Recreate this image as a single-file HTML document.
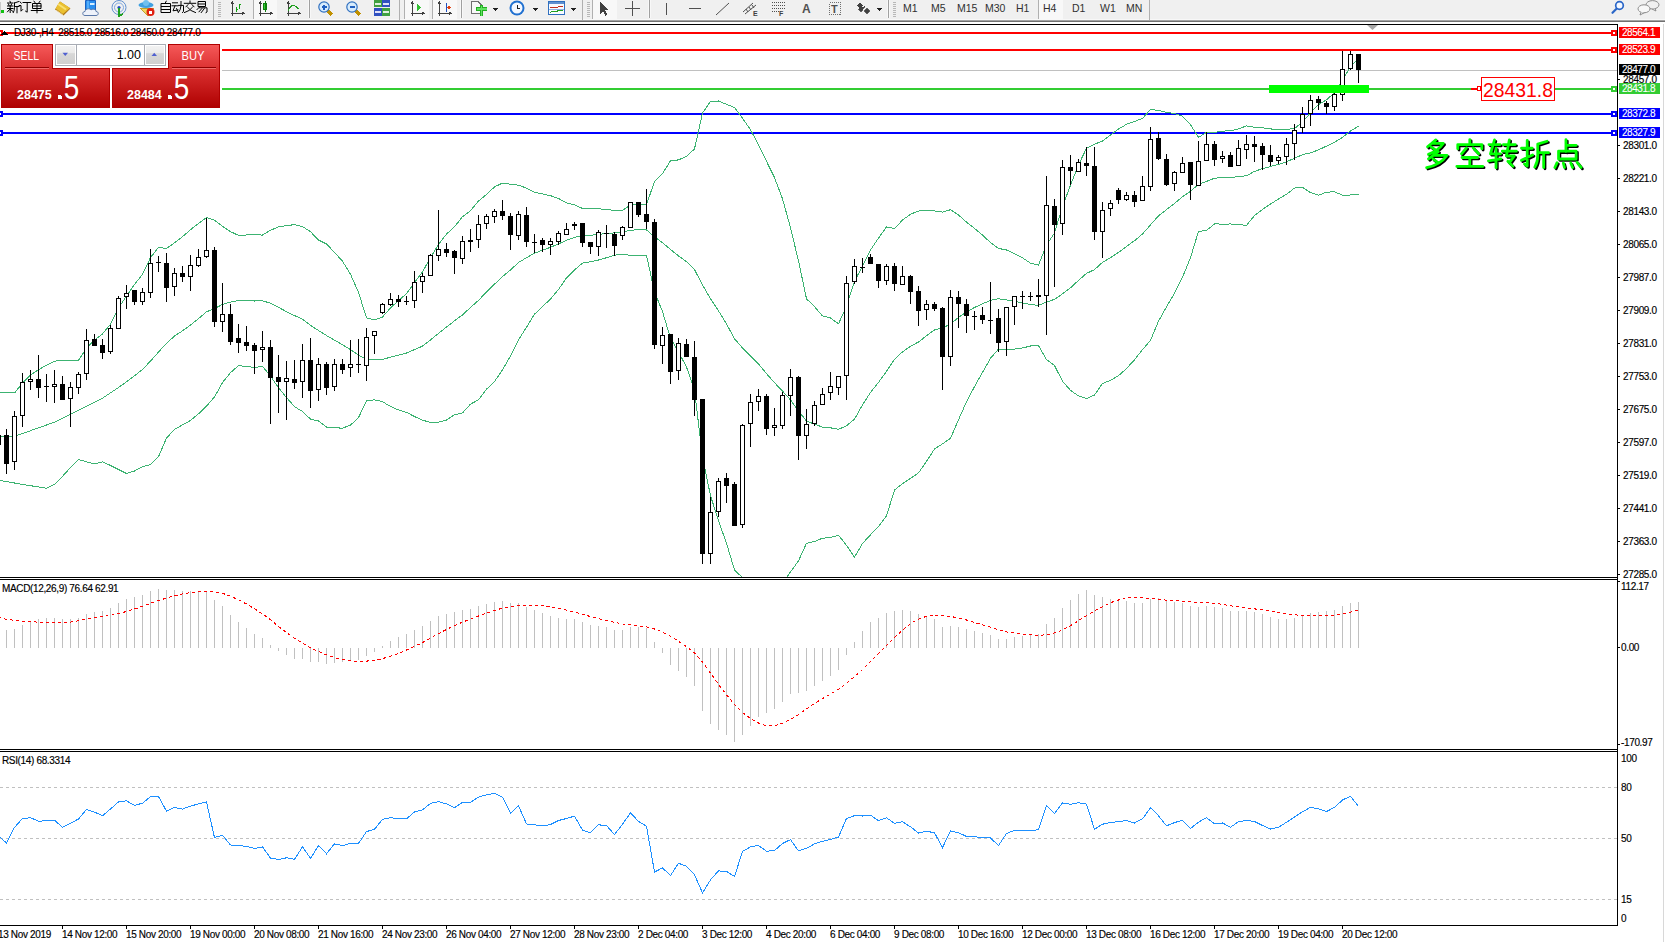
<!DOCTYPE html>
<html><head><meta charset="utf-8"><style>
html,body{margin:0;padding:0;background:#fff;width:1665px;height:942px;overflow:hidden}
svg{display:block}
text{font-family:"Liberation Sans", sans-serif}
.ax{font-size:10px;fill:#000;letter-spacing:-0.35px;stroke:#000;stroke-width:0.15px}
.axw{font-size:10px;fill:#fff;letter-spacing:-0.45px;stroke:#fff;stroke-width:0.1px}
</style></head><body>
<svg width="1665" height="942" viewBox="0 0 1665 942" shape-rendering="crispEdges">
<rect x="0" y="0" width="1665" height="19" fill="#F0F0F0"/><rect x="0" y="19" width="1665" height="1" fill="#F8F8F8"/><rect x="0" y="20" width="1665" height="1" fill="#A4A4A4"/><rect x="0" y="21" width="1665" height="1" fill="#707070"/><rect x="0" y="22" width="1665" height="2" fill="#FFFFFF"/><rect x="0" y="10" width="4" height="3" fill="#10C010"/><rect x="0" y="2" width="1" height="12" fill="#C8C8C8"/><path transform="translate(7,1)" d="M3,0.3 L3.5,1.5 M0.5,2 H6 M1.5,3 L2,4.5 M4.6,3 L4,4.5 M0.5,5 H6 M0.5,7.5 H6 M3.2,5 V11.5 M3,8 L0.5,10.8 M3.5,8.5 L6,10.5 M11.5,0.6 L7.5,2 M7.5,2 V6.5 Q7.5,9.8 6.3,11.6 M7.5,5.5 H12 M10,5.5 V11.8" fill="none" stroke="#000" stroke-width="1.0" stroke-linecap="square" shape-rendering="geometricPrecision"/><path transform="translate(19,1)" d="M1,0.8 L2.2,2.2 M0.2,4.5 H2 V10.2 L3.6,8.6 M4,1.5 H11.8 M8.2,1.5 V11.2 L6.6,10.2" fill="none" stroke="#000" stroke-width="1.0" stroke-linecap="square" shape-rendering="geometricPrecision"/><path transform="translate(31,1)" d="M3,0.2 L4,1.6 M9,0.2 L8,1.6 M2,2.5 H10 V7.5 H2 Z M2,5 H10 M6,2.5 V11.8 M0.3,9.5 H11.7" fill="none" stroke="#000" stroke-width="1.0" stroke-linecap="square" shape-rendering="geometricPrecision"/><g shape-rendering="geometricPrecision"><path d="M60,1.5 L70.5,8.5 L63.5,15.5 L55,9.5 Z" fill="#B07818"/><path d="M60,1.5 L70,8 L63,14 L55.5,8.5 Z" fill="#EAC030"/><path d="M58,4 L66,9.5" stroke="#F8E070" stroke-width="2"/><path d="M56,10 L63,15" stroke="#F4E0A0" stroke-width="0.8"/></g><g shape-rendering="geometricPrecision"><path d="M85.5,0.5 H95.5 V10 H85.5 Z" fill="#2A90F0" stroke="#1A60C0"/><path d="M88,0.5 V10" stroke="#80C8FF"/><rect x="90" y="3" width="4.5" height="2" fill="#D8EEFF"/><path d="M85,15.5 C82,15.5 82,11.5 85,11.5 C85.5,8.5 89.5,8 91,10 C92.5,8.5 96,9 96,11.5 C99,11.5 99,15.5 96,15.5 Z" fill="#EEF2FA" stroke="#5A78A8"/></g><circle shape-rendering="geometricPrecision" cx="119" cy="7.5" r="7" fill="none" stroke="#6090D0" stroke-width="1"/><circle shape-rendering="geometricPrecision" cx="119" cy="7.5" r="4.5" fill="none" stroke="#80A8E0" stroke-width="1"/><circle shape-rendering="geometricPrecision" cx="119" cy="7.5" r="1.6" fill="#2050C0"/><path d="M119,8 V16 L123,14" stroke="#20A020" stroke-width="1.5" fill="none"/><path d="M140,8 L154,8 L148,16 Z" fill="#F0D860" stroke="#C0A030" stroke-width="1"/><ellipse shape-rendering="geometricPrecision" cx="146" cy="5" rx="7.5" ry="3" fill="#40A0E0"/><ellipse shape-rendering="geometricPrecision" cx="146" cy="3" rx="3" ry="3" fill="#70C0F0"/><circle shape-rendering="geometricPrecision" cx="150.5" cy="12" r="4" fill="#E02010"/><rect x="149" y="10.5" width="3" height="3" fill="#fff"/><path transform="translate(160,1)" d="M6.2,0.2 L5.4,1.8 M1.5,2.5 H10.5 V11.5 H1.5 Z M1.5,5.5 H10.5 M1.5,8.5 H10.5" fill="none" stroke="#000" stroke-width="1.0" stroke-linecap="square" shape-rendering="geometricPrecision"/><path transform="translate(172,1)" d="M0.5,1.8 H5.5 M0,4.8 H6 M3,4.8 L1,9.8 L6,9 M4.6,7.6 L6,10.6 M6.6,4.4 H11.5 V10.6 L10.4,11.5 M9,0.5 V4.6 Q8.8,9 6.4,11.6" fill="none" stroke="#000" stroke-width="1.0" stroke-linecap="square" shape-rendering="geometricPrecision"/><path transform="translate(184,1)" d="M6,0 V1.8 M0.3,2.3 H11.7 M4,3.6 L2,5.8 M8,3.6 L10,5.8 M3.5,6.3 Q6,10 11.5,11.6 M8.5,6.3 Q6,10 0.5,11.6" fill="none" stroke="#000" stroke-width="1.0" stroke-linecap="square" shape-rendering="geometricPrecision"/><path transform="translate(196,1)" d="M2.5,0.5 H9.5 V5.5 H2.5 Z M2.5,3 H9.5 M3.5,6 L1,8.6 M3.5,6.8 H11 V11 L10,11.6 M5.8,7.6 L3,10.8 M8.3,7.6 L5.2,11.6" fill="none" stroke="#000" stroke-width="1.0" stroke-linecap="square" shape-rendering="geometricPrecision"/><rect x="213" y="0" width="1" height="20" fill="#B0B0B0"/><rect x="218" y="2" width="3" height="1" fill="#B8B8B8"/><rect x="218" y="4" width="3" height="1" fill="#B8B8B8"/><rect x="218" y="6" width="3" height="1" fill="#B8B8B8"/><rect x="218" y="8" width="3" height="1" fill="#B8B8B8"/><rect x="218" y="10" width="3" height="1" fill="#B8B8B8"/><rect x="218" y="12" width="3" height="1" fill="#B8B8B8"/><rect x="218" y="14" width="3" height="1" fill="#B8B8B8"/><rect x="218" y="16" width="3" height="1" fill="#B8B8B8"/><path d="M232.5,2 V15.5 M230.5,13.5 H244" stroke="#404040" stroke-width="1" fill="none"/><path d="M231,4 L232.5,2 L234,4 M242,12 L244,13.5 L242,15" stroke="#404040" fill="none"/><path d="M236.5,7 V11.5 M236.5,9.5 H238 M239.5,4 V9 M239.5,4 H241" stroke="#10A010" stroke-width="1" fill="none"/><rect x="253" y="0" width="24" height="19" fill="#F8F8F8"/><rect x="253" y="0" width="1" height="19" fill="#B0B0B0"/><path d="M260.5,2 V15.5 M258.5,13.5 H272" stroke="#404040" stroke-width="1" fill="none"/><path d="M259,4 L260.5,2 L262,4 M270,12 L272,13.5 L270,15" stroke="#404040" fill="none"/><rect x="263.5" y="3.5" width="3" height="6" fill="#30D030" stroke="#108010"/><path d="M265,1 V12" stroke="#108010"/><path d="M288.5,2 V15.5 M286.5,13.5 H300" stroke="#404040" stroke-width="1" fill="none"/><path d="M287,4 L288.5,2 L290,4 M298,12 L300,13.5 L298,15" stroke="#404040" fill="none"/><path d="M288,11 Q292,3 295,6 L299,9" stroke="#20A020" stroke-width="1" fill="none"/><rect x="308" y="0" width="1" height="18" fill="#F8F8F8"/><rect x="309" y="0" width="1" height="18" fill="#A0A0A0"/><rect x="310" y="0" width="1" height="18" fill="#F8F8F8"/><path d="M327,10 L332,15" stroke="#C09000" stroke-width="3"/><circle shape-rendering="geometricPrecision" cx="324" cy="7" r="5.2" fill="#D8ECFC" stroke="#3070C0" stroke-width="1.2"/><path d="M321.5,7 H326.5" stroke="#2060C0" stroke-width="1.6"/><path d="M324,4.5 V9.5" stroke="#2060C0" stroke-width="1.6"/><path d="M355,10 L360,15" stroke="#C09000" stroke-width="3"/><circle shape-rendering="geometricPrecision" cx="352" cy="7" r="5.2" fill="#D8ECFC" stroke="#3070C0" stroke-width="1.2"/><path d="M349.5,7 H354.5" stroke="#2060C0" stroke-width="1.6"/><rect x="374" y="0" width="8" height="7" fill="#40A040"/><rect x="382" y="0" width="8" height="7" fill="#3050C0"/><rect x="374" y="8" width="8" height="8" fill="#3050C0"/><rect x="382" y="8" width="8" height="8" fill="#40A040"/><rect x="375" y="3" width="6" height="2" fill="#E0F0E0"/><rect x="383" y="3" width="6" height="2" fill="#E0E0F8"/><rect x="375" y="11" width="6" height="2" fill="#E0E0F8"/><rect x="383" y="11" width="6" height="2" fill="#E0F0E0"/><rect x="399" y="0" width="1" height="20" fill="#B0B0B0"/><rect x="404" y="0" width="25" height="19" fill="#F8F8F8"/><rect x="404" y="0" width="1" height="19" fill="#B0B0B0"/><path d="M412.5,2 V15.5 M410.5,13.5 H424" stroke="#404040" stroke-width="1" fill="none"/><path d="M411,4 L412.5,2 L414,4 M422,12 L424,13.5 L422,15" stroke="#404040" fill="none"/><path d="M417,4 L421,7.5 L417,11 Z" fill="#30C030"/><rect x="432" y="0" width="25" height="19" fill="#F8F8F8"/><rect x="432" y="0" width="1" height="19" fill="#B0B0B0"/><path d="M439.5,2 V15.5 M437.5,13.5 H451" stroke="#404040" stroke-width="1" fill="none"/><path d="M438,4 L439.5,2 L441,4 M449,12 L451,13.5 L449,15" stroke="#404040" fill="none"/><path d="M446.5,3 V12" stroke="#2050C0"/><path d="M451,7.5 H448 M449.5,6 L448,7.5 L449.5,9" stroke="#E04010" fill="none"/><rect x="460" y="0" width="1" height="18" fill="#F8F8F8"/><rect x="461" y="0" width="1" height="18" fill="#A0A0A0"/><rect x="462" y="0" width="1" height="18" fill="#F8F8F8"/><path d="M471.5,1.5 H478 L481,4.5 V13 H471.5 Z" fill="#F8F8F8" stroke="#707070"/><path d="M476,9 H487 M481.5,5 V16" stroke="#20B020" stroke-width="3.5"/><path d="M476.5,9 H486.5 M481.5,5.5 V15.5" stroke="#60E060" stroke-width="1.5"/><path d="M493,8 h5 l-2.5,3 z" fill="#202020"/><circle shape-rendering="geometricPrecision" cx="517" cy="8" r="7.5" fill="#2070D0"/><circle shape-rendering="geometricPrecision" cx="517" cy="8" r="5.5" fill="#F4F8FF"/><path d="M517,4.5 V8 H520" stroke="#202020" fill="none"/><path d="M533,8 h5 l-2.5,3 z" fill="#202020"/><rect x="548.5" y="1.5" width="16" height="13" fill="#F8FBFF" stroke="#3070C0"/><rect x="549" y="2" width="15" height="2" fill="#6090D0"/><path d="M550,8 L553,7 L556,8 L559,6.5 L563,6" stroke="#C03020" fill="none"/><path d="M550,12.5 L553,11 L556,12 L559,10 L563,11" stroke="#20A020" fill="none"/><rect x="549" y="9" width="15" height="1" fill="#90B0E0"/><path d="M571,8 h5 l-2.5,3 z" fill="#202020"/><rect x="582" y="0" width="1" height="20" fill="#B0B0B0"/><rect x="587" y="2" width="3" height="1" fill="#B8B8B8"/><rect x="587" y="4" width="3" height="1" fill="#B8B8B8"/><rect x="587" y="6" width="3" height="1" fill="#B8B8B8"/><rect x="587" y="8" width="3" height="1" fill="#B8B8B8"/><rect x="587" y="10" width="3" height="1" fill="#B8B8B8"/><rect x="587" y="12" width="3" height="1" fill="#B8B8B8"/><rect x="587" y="14" width="3" height="1" fill="#B8B8B8"/><rect x="587" y="16" width="3" height="1" fill="#B8B8B8"/><rect x="592" y="0" width="25" height="19" fill="#F8F8F8"/><rect x="592" y="0" width="1" height="19" fill="#B0B0B0"/><path d="M600,2 L600,14 L603,11 L605.5,15.5 L607.5,14.5 L605,10 L609,10 Z" fill="#404040"/><path d="M632.5,1 V16 M625,8.5 H640" stroke="#505050" fill="none"/><rect x="648" y="0" width="1" height="18" fill="#F8F8F8"/><rect x="649" y="0" width="1" height="18" fill="#A0A0A0"/><rect x="650" y="0" width="1" height="18" fill="#F8F8F8"/><rect x="666" y="3" width="1" height="12" fill="#505050"/><rect x="689" y="8" width="12" height="1" fill="#505050"/><path d="M716,15 L729,3" stroke="#505050" fill="none" shape-rendering="geometricPrecision"/><path d="M743,12 L753,3 M745,14 L756,5 M746,9 L748,12 M749,7 L751,10 M752,5 L754,8" stroke="#505050" fill="none" shape-rendering="geometricPrecision"/><text x="753" y="16" style="font-size:7px;font-weight:bold" fill="#404040">E</text><path d="M771.5,2.5 H785 M771.5,5.5 H785 M771.5,8.5 H785 M771.5,11.5 H780" stroke="#505050" stroke-dasharray="1,1" fill="none"/><text x="779" y="16" style="font-size:7px;font-weight:bold" fill="#404040">F</text><text x="802" y="13" style="font-size:12px;font-weight:bold" fill="#505050">A</text><rect x="829.5" y="2.5" width="11" height="12" fill="none" stroke="#707070" stroke-dasharray="1,1"/><text x="831" y="13" style="font-size:11px;font-weight:bold" fill="#505050">T</text><path d="M857,5.5 L860,3 L863,5.5 L860,8 Z M864,11 L867,8.5 L870,11 L867,13.5 Z M858,9 L861,12 L865,6" fill="#404040" stroke="#404040" stroke-width="0.8"/><path d="M877,8 h5 l-2.5,3 z" fill="#202020"/><rect x="887" y="0" width="1" height="18" fill="#F8F8F8"/><rect x="888" y="0" width="1" height="18" fill="#A0A0A0"/><rect x="889" y="0" width="1" height="18" fill="#F8F8F8"/><rect x="893" y="2" width="3" height="1" fill="#B8B8B8"/><rect x="893" y="4" width="3" height="1" fill="#B8B8B8"/><rect x="893" y="6" width="3" height="1" fill="#B8B8B8"/><rect x="893" y="8" width="3" height="1" fill="#B8B8B8"/><rect x="893" y="10" width="3" height="1" fill="#B8B8B8"/><rect x="893" y="12" width="3" height="1" fill="#B8B8B8"/><rect x="893" y="14" width="3" height="1" fill="#B8B8B8"/><rect x="893" y="16" width="3" height="1" fill="#B8B8B8"/><rect x="1038" y="0" width="25" height="19" fill="#F8F8F8"/><rect x="1038" y="0" width="1" height="19" fill="#B0B0B0"/><text x="903" y="12" style="font-size:10.5px" fill="#303030">M1</text><text x="931" y="12" style="font-size:10.5px" fill="#303030">M5</text><text x="957" y="12" style="font-size:10.5px" fill="#303030">M15</text><text x="985" y="12" style="font-size:10.5px" fill="#303030">M30</text><text x="1016" y="12" style="font-size:10.5px" fill="#303030">H1</text><text x="1043" y="12" style="font-size:10.5px" fill="#303030">H4</text><text x="1072" y="12" style="font-size:10.5px" fill="#303030">D1</text><text x="1100" y="12" style="font-size:10.5px" fill="#303030">W1</text><text x="1126" y="12" style="font-size:10.5px" fill="#303030">MN</text><rect x="1149" y="0" width="1" height="20" fill="#B0B0B0"/><circle shape-rendering="geometricPrecision" cx="1619.5" cy="5.5" r="3.8" fill="#F4F8FF" stroke="#2A66C8" stroke-width="1.7"/><path d="M1616.5,8.8 L1612.5,12.8" stroke="#2A66C8" stroke-width="2.2" stroke-linecap="round" shape-rendering="geometricPrecision"/><ellipse shape-rendering="geometricPrecision" cx="1652.5" cy="4.8" rx="6.5" ry="4.2" fill="#F0F0F0" stroke="#8C8C8C"/><path d="M1655,8.5 L1656,11 L1652,9" fill="#F0F0F0" stroke="#8C8C8C" shape-rendering="geometricPrecision"/><ellipse shape-rendering="geometricPrecision" cx="1644" cy="8.8" rx="6" ry="4" fill="#F8F8F8" stroke="#8C8C8C"/><path d="M1641,12.3 L1640,15 L1644.5,12.6" fill="#F8F8F8" stroke="#8C8C8C" shape-rendering="geometricPrecision"/>
<rect x="0" y="24" width="1618" height="1" fill="#000"/>
<rect x="1617" y="24" width="1" height="902" fill="#000"/>
<rect x="0" y="577" width="1618" height="1" fill="#000"/>
<rect x="0" y="579" width="1618" height="1" fill="#000"/>
<rect x="0" y="749" width="1618" height="1" fill="#000"/>
<rect x="0" y="751" width="1618" height="1" fill="#000"/>
<rect x="0" y="925" width="1618" height="1" fill="#000"/>
<rect x="1663" y="24" width="1" height="918" fill="#D8D8D8"/>
<defs><clipPath id="cm"><rect x="0" y="25" width="1617" height="552"/></clipPath><clipPath id="cmacd"><rect x="0" y="580" width="1617" height="169"/></clipPath><clipPath id="crsi"><rect x="0" y="752" width="1617" height="173"/></clipPath></defs>
<rect x="3" y="32" width="1608" height="2" fill="#FF0000"/>
<rect x="0" y="49" width="1611" height="2" fill="#FF0000"/>
<rect x="0" y="70" width="1617" height="1" fill="#C0C0C0"/>
<rect x="0" y="88" width="1611" height="2" fill="#32CD32"/>
<rect x="3" y="113" width="1608" height="2" fill="#0000FF"/>
<rect x="3" y="132" width="1608" height="2" fill="#0000FF"/>
<g clip-path="url(#cm)">
<polyline points="-1.5,392.2 6.5,392.5 14.5,393.0 22.5,383.0 30.5,374.9 38.5,369.7 46.5,365.2 54.5,361.2 62.5,360.3 70.5,360.3 78.5,360.3 86.5,348.4 94.5,339.9 102.5,333.9 110.5,324.2 118.5,308.1 126.5,296.1 134.5,284.5 142.5,274.4 150.5,257.6 158.5,247.4 166.5,248.4 174.5,242.9 182.5,236.7 190.5,229.7 198.5,223.4 206.5,217.5 214.5,220.3 222.5,226.3 230.5,231.6 238.5,235.4 246.5,235.0 254.5,234.6 262.5,235.1 270.5,230.3 278.5,226.9 286.5,225.7 294.5,224.6 302.5,226.6 310.5,231.7 318.5,240.0 326.5,244.0 334.5,252.4 342.5,261.2 350.5,274.2 358.5,292.4 366.5,317.8 374.5,319.9 382.5,317.0 390.5,308.0 398.5,300.5 406.5,293.6 414.5,282.7 422.5,271.9 430.5,257.6 438.5,244.5 446.5,234.1 454.5,226.8 462.5,216.7 470.5,210.7 478.5,201.0 486.5,194.5 494.5,186.9 502.5,183.1 510.5,184.2 518.5,185.2 526.5,188.1 534.5,192.3 542.5,193.9 550.5,195.7 558.5,198.4 566.5,202.9 574.5,204.9 582.5,208.4 590.5,208.9 598.5,208.9 606.5,209.3 614.5,210.6 622.5,210.2 630.5,205.2 638.5,203.8 646.5,204.5 654.5,181.6 662.5,173.7 670.5,160.8 678.5,159.9 686.5,156.5 694.5,148.9 702.5,113.0 710.5,101.5 718.5,101.0 726.5,104.3 734.5,107.6 742.5,118.3 750.5,129.8 758.5,144.7 766.5,161.3 774.5,177.6 782.5,198.8 790.5,227.8 798.5,260.9 806.5,298.8 814.5,306.7 822.5,315.9 830.5,318.0 838.5,323.8 846.5,306.2 854.5,281.1 862.5,266.2 870.5,250.0 878.5,238.1 886.5,226.9 894.5,228.6 902.5,220.1 910.5,214.2 918.5,211.1 926.5,210.3 934.5,210.9 942.5,212.1 950.5,209.7 958.5,215.0 966.5,222.1 974.5,228.4 982.5,235.1 990.5,242.6 998.5,248.4 1006.5,250.0 1014.5,253.8 1022.5,257.8 1030.5,263.1 1038.5,265.0 1046.5,245.0 1054.5,233.1 1062.5,206.5 1070.5,185.2 1078.5,164.9 1086.5,148.3 1094.5,144.2 1102.5,141.1 1110.5,134.9 1118.5,129.1 1126.5,124.3 1134.5,121.5 1142.5,118.4 1150.5,109.5 1158.5,110.4 1166.5,112.3 1174.5,113.5 1182.5,116.2 1190.5,124.8 1198.5,137.4 1206.5,132.3 1214.5,132.4 1222.5,131.1 1230.5,130.8 1238.5,128.8 1246.5,125.9 1254.5,127.3 1262.5,127.8 1270.5,128.9 1278.5,129.8 1286.5,129.4 1294.5,128.5 1302.5,122.1 1310.5,112.9 1318.5,104.6 1326.5,99.9 1334.5,92.5 1342.5,79.7 1350.5,66.9 1358.5,58.6" fill="none" stroke="#3CB371" stroke-width="1"/>
<polyline points="-1.5,436.0 6.5,436.0 14.5,436.0 22.5,433.6 30.5,430.7 38.5,427.8 46.5,425.0 54.5,422.2 62.5,418.4 70.5,414.4 78.5,410.4 86.5,406.4 94.5,402.4 102.5,398.2 110.5,392.8 118.5,387.5 126.5,381.8 134.5,375.8 142.5,369.5 150.5,361.1 158.5,352.1 166.5,343.2 174.5,336.1 182.5,330.8 190.5,325.1 198.5,318.6 206.5,311.8 214.5,308.6 222.5,304.4 230.5,302.1 238.5,300.5 246.5,300.8 254.5,301.0 262.5,300.8 270.5,303.2 278.5,307.4 286.5,311.6 294.5,315.6 302.5,319.1 310.5,325.4 318.5,330.5 326.5,335.5 334.5,340.1 342.5,344.7 350.5,349.6 358.5,355.0 366.5,359.4 374.5,359.9 382.5,359.4 390.5,357.2 398.5,355.2 406.5,353.0 414.5,349.6 422.5,346.1 430.5,339.9 438.5,333.4 446.5,327.1 454.5,320.8 462.5,314.9 470.5,307.4 478.5,300.4 486.5,291.9 494.5,284.2 502.5,276.5 510.5,270.0 518.5,262.5 526.5,257.7 534.5,253.2 542.5,250.2 550.5,247.3 558.5,243.9 566.5,240.3 574.5,237.4 582.5,235.8 590.5,235.3 598.5,234.4 606.5,233.5 614.5,232.9 622.5,232.2 630.5,230.2 638.5,229.8 646.5,230.0 654.5,236.7 662.5,242.7 670.5,249.5 678.5,255.9 686.5,261.7 694.5,269.6 702.5,285.0 710.5,298.6 718.5,310.9 726.5,323.8 734.5,338.8 742.5,347.9 750.5,355.8 758.5,363.9 766.5,373.7 774.5,382.7 782.5,391.1 790.5,399.9 798.5,410.9 806.5,421.1 814.5,424.1 822.5,427.1 830.5,427.8 838.5,429.4 846.5,425.8 854.5,419.1 862.5,404.9 870.5,392.4 878.5,382.4 886.5,371.4 894.5,359.3 902.5,351.9 910.5,346.3 918.5,342.0 926.5,335.8 934.5,329.9 942.5,328.0 950.5,324.0 958.5,317.4 966.5,311.9 974.5,307.5 982.5,303.8 990.5,300.4 998.5,298.8 1006.5,299.9 1014.5,301.4 1022.5,302.9 1030.5,304.6 1038.5,305.3 1046.5,302.2 1054.5,299.3 1062.5,293.9 1070.5,287.8 1078.5,280.4 1086.5,273.4 1094.5,269.6 1102.5,262.3 1110.5,257.6 1118.5,252.4 1126.5,246.4 1134.5,240.7 1142.5,234.0 1150.5,224.9 1158.5,215.8 1166.5,209.6 1174.5,203.4 1182.5,196.8 1190.5,191.2 1198.5,184.4 1206.5,181.4 1214.5,178.2 1222.5,177.6 1230.5,177.4 1238.5,176.7 1246.5,175.7 1254.5,171.4 1262.5,168.6 1270.5,166.5 1278.5,164.4 1286.5,161.8 1294.5,158.3 1302.5,154.7 1310.5,152.8 1318.5,149.9 1326.5,146.1 1334.5,142.2 1342.5,137.4 1350.5,130.9 1358.5,126.3" fill="none" stroke="#3CB371" stroke-width="1"/>
<polyline points="-1.5,480.3 6.5,481.5 14.5,483.0 22.5,484.4 30.5,485.7 38.5,486.9 46.5,488.2 54.5,484.3 62.5,476.3 70.5,467.6 78.5,459.5 86.5,461.8 94.5,463.8 102.5,461.8 110.5,465.5 118.5,469.5 126.5,473.5 134.5,471.0 142.5,466.7 150.5,464.7 158.5,456.7 166.5,438.1 174.5,429.3 182.5,424.9 190.5,420.5 198.5,413.8 206.5,406.1 214.5,397.0 222.5,382.5 230.5,372.6 238.5,365.6 246.5,366.5 254.5,367.4 262.5,366.4 270.5,376.1 278.5,387.8 286.5,397.5 294.5,406.7 302.5,411.5 310.5,419.1 318.5,421.0 326.5,427.0 334.5,427.7 342.5,428.2 350.5,425.1 358.5,417.6 366.5,400.9 374.5,399.8 382.5,401.7 390.5,406.5 398.5,409.9 406.5,412.4 414.5,416.5 422.5,420.2 430.5,422.3 438.5,422.2 446.5,420.0 454.5,414.8 462.5,413.0 470.5,404.1 478.5,399.8 486.5,389.2 494.5,381.5 502.5,369.9 510.5,355.8 518.5,339.8 526.5,327.3 534.5,314.2 542.5,306.6 550.5,299.0 558.5,289.5 566.5,277.8 574.5,270.0 582.5,263.1 590.5,261.7 598.5,260.0 606.5,257.7 614.5,255.2 622.5,254.2 630.5,255.3 638.5,255.7 646.5,255.5 654.5,291.7 662.5,311.6 670.5,338.2 678.5,352.0 686.5,366.9 694.5,390.2 702.5,457.0 710.5,495.6 718.5,520.9 726.5,543.2 734.5,570.0 742.5,577.6 750.5,581.7 758.5,583.2 766.5,586.1 774.5,587.8 782.5,583.4 790.5,571.9 798.5,560.9 806.5,543.3 814.5,541.5 822.5,538.2 830.5,537.6 838.5,535.1 846.5,545.4 854.5,557.2 862.5,543.5 870.5,534.8 878.5,526.6 886.5,515.9 894.5,490.0 902.5,483.6 910.5,478.4 918.5,472.9 926.5,461.3 934.5,449.0 942.5,443.9 950.5,438.3 958.5,419.8 966.5,401.8 974.5,386.6 982.5,372.4 990.5,358.3 998.5,349.1 1006.5,349.9 1014.5,349.1 1022.5,348.0 1030.5,346.0 1038.5,345.6 1046.5,359.5 1054.5,365.5 1062.5,381.2 1070.5,390.4 1078.5,395.9 1086.5,398.6 1094.5,395.0 1102.5,383.5 1110.5,380.3 1118.5,375.7 1126.5,368.5 1134.5,359.8 1142.5,349.6 1150.5,340.4 1158.5,321.1 1166.5,306.9 1174.5,293.3 1182.5,277.3 1190.5,257.5 1198.5,231.5 1206.5,230.5 1214.5,223.9 1222.5,224.1 1230.5,224.0 1238.5,224.6 1246.5,225.4 1254.5,215.5 1262.5,209.4 1270.5,204.1 1278.5,199.0 1286.5,194.3 1294.5,188.1 1302.5,187.3 1310.5,192.6 1318.5,195.3 1326.5,192.2 1334.5,191.8 1342.5,195.2 1350.5,195.0 1358.5,194.1" fill="none" stroke="#3CB371" stroke-width="1"/>
<g fill="#000"><rect x="-2" y="433" width="1" height="14"/><rect x="-4" y="435" width="5" height="10"/><rect x="6" y="429" width="1" height="45"/><rect x="4" y="435" width="5" height="29"/><rect x="14" y="411" width="1" height="59"/><rect x="12" y="416" width="5" height="46"/><rect x="13" y="417" width="3" height="44" fill="#fff"/><rect x="22" y="373" width="1" height="54"/><rect x="20" y="382" width="5" height="34"/><rect x="21" y="383" width="3" height="32" fill="#fff"/><rect x="30" y="370" width="1" height="20"/><rect x="28" y="379" width="5" height="3"/><rect x="29" y="380" width="3" height="1" fill="#fff"/><rect x="38" y="355" width="1" height="43"/><rect x="36" y="379" width="5" height="9"/><rect x="46" y="374" width="1" height="28"/><rect x="44" y="386" width="5" height="1"/><rect x="54" y="370" width="1" height="33"/><rect x="52" y="384" width="5" height="3"/><rect x="53" y="385" width="3" height="1" fill="#fff"/><rect x="62" y="376" width="1" height="24"/><rect x="60" y="384" width="5" height="16"/><rect x="70" y="382" width="1" height="45"/><rect x="68" y="387" width="5" height="12"/><rect x="69" y="388" width="3" height="10" fill="#fff"/><rect x="78" y="372" width="1" height="22"/><rect x="76" y="374" width="5" height="14"/><rect x="77" y="375" width="3" height="12" fill="#fff"/><rect x="86" y="329" width="1" height="51"/><rect x="84" y="340" width="5" height="34"/><rect x="85" y="341" width="3" height="32" fill="#fff"/><rect x="94" y="334" width="1" height="12"/><rect x="92" y="339" width="5" height="7"/><rect x="102" y="339" width="1" height="20"/><rect x="100" y="345" width="5" height="8"/><rect x="110" y="325" width="1" height="29"/><rect x="108" y="328" width="5" height="24"/><rect x="109" y="329" width="3" height="22" fill="#fff"/><rect x="118" y="296" width="1" height="33"/><rect x="116" y="298" width="5" height="31"/><rect x="117" y="299" width="3" height="29" fill="#fff"/><rect x="126" y="285" width="1" height="24"/><rect x="124" y="293" width="5" height="4"/><rect x="125" y="294" width="3" height="2" fill="#fff"/><rect x="134" y="290" width="1" height="15"/><rect x="132" y="290" width="5" height="12"/><rect x="142" y="288" width="1" height="17"/><rect x="140" y="292" width="5" height="10"/><rect x="141" y="293" width="3" height="8" fill="#fff"/><rect x="150" y="249" width="1" height="49"/><rect x="148" y="263" width="5" height="30"/><rect x="149" y="264" width="3" height="28" fill="#fff"/><rect x="158" y="256" width="1" height="16"/><rect x="156" y="262" width="5" height="1"/><rect x="166" y="253" width="1" height="49"/><rect x="164" y="263" width="5" height="25"/><rect x="174" y="268" width="1" height="28"/><rect x="172" y="273" width="5" height="14"/><rect x="173" y="274" width="3" height="12" fill="#fff"/><rect x="182" y="266" width="1" height="16"/><rect x="180" y="273" width="5" height="4"/><rect x="190" y="255" width="1" height="36"/><rect x="188" y="265" width="5" height="12"/><rect x="189" y="266" width="3" height="10" fill="#fff"/><rect x="198" y="249" width="1" height="18"/><rect x="196" y="257" width="5" height="9"/><rect x="197" y="258" width="3" height="7" fill="#fff"/><rect x="206" y="218" width="1" height="40"/><rect x="204" y="250" width="5" height="7"/><rect x="205" y="251" width="3" height="5" fill="#fff"/><rect x="214" y="247" width="1" height="80"/><rect x="212" y="250" width="5" height="72"/><rect x="222" y="283" width="1" height="49"/><rect x="220" y="314" width="5" height="8"/><rect x="221" y="315" width="3" height="6" fill="#fff"/><rect x="230" y="304" width="1" height="41"/><rect x="228" y="314" width="5" height="28"/><rect x="238" y="324" width="1" height="29"/><rect x="236" y="338" width="5" height="5"/><rect x="246" y="326" width="1" height="25"/><rect x="244" y="342" width="5" height="4"/><rect x="254" y="343" width="1" height="31"/><rect x="252" y="345" width="5" height="6"/><rect x="262" y="331" width="1" height="31"/><rect x="260" y="347" width="5" height="3"/><rect x="261" y="348" width="3" height="1" fill="#fff"/><rect x="270" y="340" width="1" height="84"/><rect x="268" y="347" width="5" height="31"/><rect x="278" y="355" width="1" height="58"/><rect x="276" y="377" width="5" height="5"/><rect x="286" y="361" width="1" height="59"/><rect x="284" y="378" width="5" height="4"/><rect x="285" y="379" width="3" height="2" fill="#fff"/><rect x="294" y="360" width="1" height="29"/><rect x="292" y="379" width="5" height="4"/><rect x="302" y="344" width="1" height="54"/><rect x="300" y="360" width="5" height="22"/><rect x="301" y="361" width="3" height="20" fill="#fff"/><rect x="310" y="338" width="1" height="70"/><rect x="308" y="360" width="5" height="31"/><rect x="318" y="358" width="1" height="43"/><rect x="316" y="364" width="5" height="26"/><rect x="317" y="365" width="3" height="24" fill="#fff"/><rect x="326" y="362" width="1" height="33"/><rect x="324" y="364" width="5" height="24"/><rect x="334" y="359" width="1" height="32"/><rect x="332" y="364" width="5" height="23"/><rect x="333" y="365" width="3" height="21" fill="#fff"/><rect x="342" y="359" width="1" height="15"/><rect x="340" y="364" width="5" height="6"/><rect x="350" y="340" width="1" height="37"/><rect x="348" y="364" width="5" height="4"/><rect x="349" y="365" width="3" height="2" fill="#fff"/><rect x="358" y="339" width="1" height="34"/><rect x="356" y="364" width="5" height="1"/><rect x="366" y="328" width="1" height="53"/><rect x="364" y="337" width="5" height="29"/><rect x="365" y="338" width="3" height="27" fill="#fff"/><rect x="374" y="331" width="1" height="23"/><rect x="372" y="331" width="5" height="5"/><rect x="373" y="332" width="3" height="3" fill="#fff"/><rect x="382" y="303" width="1" height="11"/><rect x="380" y="304" width="5" height="9"/><rect x="381" y="305" width="3" height="7" fill="#fff"/><rect x="390" y="293" width="1" height="13"/><rect x="388" y="299" width="5" height="6"/><rect x="389" y="300" width="3" height="4" fill="#fff"/><rect x="398" y="295" width="1" height="12"/><rect x="396" y="299" width="5" height="3"/><rect x="406" y="296" width="1" height="9"/><rect x="404" y="301" width="5" height="1"/><rect x="414" y="271" width="1" height="37"/><rect x="412" y="282" width="5" height="19"/><rect x="413" y="283" width="3" height="17" fill="#fff"/><rect x="422" y="273" width="1" height="20"/><rect x="420" y="276" width="5" height="6"/><rect x="421" y="277" width="3" height="4" fill="#fff"/><rect x="430" y="254" width="1" height="22"/><rect x="428" y="255" width="5" height="21"/><rect x="429" y="256" width="3" height="19" fill="#fff"/><rect x="438" y="210" width="1" height="51"/><rect x="436" y="249" width="5" height="7"/><rect x="437" y="250" width="3" height="5" fill="#fff"/><rect x="446" y="243" width="1" height="14"/><rect x="444" y="249" width="5" height="4"/><rect x="454" y="250" width="1" height="24"/><rect x="452" y="251" width="5" height="7"/><rect x="462" y="236" width="1" height="28"/><rect x="460" y="241" width="5" height="18"/><rect x="461" y="242" width="3" height="16" fill="#fff"/><rect x="470" y="229" width="1" height="23"/><rect x="468" y="240" width="5" height="2"/><rect x="478" y="215" width="1" height="33"/><rect x="476" y="224" width="5" height="16"/><rect x="477" y="225" width="3" height="14" fill="#fff"/><rect x="486" y="214" width="1" height="15"/><rect x="484" y="216" width="5" height="8"/><rect x="485" y="217" width="3" height="6" fill="#fff"/><rect x="494" y="209" width="1" height="14"/><rect x="492" y="211" width="5" height="6"/><rect x="493" y="212" width="3" height="4" fill="#fff"/><rect x="502" y="200" width="1" height="20"/><rect x="500" y="211" width="5" height="5"/><rect x="510" y="213" width="1" height="37"/><rect x="508" y="216" width="5" height="19"/><rect x="518" y="211" width="1" height="29"/><rect x="516" y="214" width="5" height="22"/><rect x="517" y="215" width="3" height="20" fill="#fff"/><rect x="526" y="207" width="1" height="40"/><rect x="524" y="215" width="5" height="27"/><rect x="534" y="234" width="1" height="19"/><rect x="532" y="242" width="5" height="1"/><rect x="542" y="238" width="1" height="14"/><rect x="540" y="240" width="5" height="5"/><rect x="550" y="238" width="1" height="17"/><rect x="548" y="241" width="5" height="4"/><rect x="549" y="242" width="3" height="2" fill="#fff"/><rect x="558" y="231" width="1" height="14"/><rect x="556" y="233" width="5" height="9"/><rect x="557" y="234" width="3" height="7" fill="#fff"/><rect x="566" y="223" width="1" height="12"/><rect x="564" y="229" width="5" height="6"/><rect x="565" y="230" width="3" height="4" fill="#fff"/><rect x="574" y="222" width="1" height="8"/><rect x="572" y="224" width="5" height="2"/><rect x="582" y="223" width="1" height="24"/><rect x="580" y="223" width="5" height="20"/><rect x="590" y="242" width="1" height="12"/><rect x="588" y="242" width="5" height="5"/><rect x="598" y="230" width="1" height="26"/><rect x="596" y="232" width="5" height="15"/><rect x="597" y="233" width="3" height="13" fill="#fff"/><rect x="606" y="225" width="1" height="23"/><rect x="604" y="233" width="5" height="1"/><rect x="614" y="232" width="1" height="24"/><rect x="612" y="234" width="5" height="12"/><rect x="622" y="226" width="1" height="14"/><rect x="620" y="227" width="5" height="9"/><rect x="621" y="228" width="3" height="7" fill="#fff"/><rect x="630" y="202" width="1" height="26"/><rect x="628" y="202" width="5" height="26"/><rect x="629" y="203" width="3" height="24" fill="#fff"/><rect x="638" y="202" width="1" height="15"/><rect x="636" y="202" width="5" height="13"/><rect x="646" y="189" width="1" height="40"/><rect x="644" y="214" width="5" height="8"/><rect x="654" y="219" width="1" height="130"/><rect x="652" y="222" width="5" height="123"/><rect x="662" y="327" width="1" height="37"/><rect x="660" y="335" width="5" height="11"/><rect x="661" y="336" width="3" height="9" fill="#fff"/><rect x="670" y="334" width="1" height="50"/><rect x="668" y="334" width="5" height="38"/><rect x="678" y="338" width="1" height="42"/><rect x="676" y="343" width="5" height="28"/><rect x="677" y="344" width="3" height="26" fill="#fff"/><rect x="686" y="339" width="1" height="18"/><rect x="684" y="344" width="5" height="13"/><rect x="694" y="341" width="1" height="75"/><rect x="692" y="357" width="5" height="43"/><rect x="702" y="399" width="1" height="165"/><rect x="700" y="399" width="5" height="155"/><rect x="710" y="497" width="1" height="67"/><rect x="708" y="512" width="5" height="42"/><rect x="709" y="513" width="3" height="40" fill="#fff"/><rect x="718" y="478" width="1" height="39"/><rect x="716" y="481" width="5" height="31"/><rect x="717" y="482" width="3" height="29" fill="#fff"/><rect x="726" y="473" width="1" height="30"/><rect x="724" y="478" width="5" height="8"/><rect x="734" y="482" width="1" height="44"/><rect x="732" y="484" width="5" height="42"/><rect x="742" y="424" width="1" height="104"/><rect x="740" y="425" width="5" height="100"/><rect x="741" y="426" width="3" height="98" fill="#fff"/><rect x="750" y="394" width="1" height="53"/><rect x="748" y="402" width="5" height="22"/><rect x="749" y="403" width="3" height="20" fill="#fff"/><rect x="758" y="389" width="1" height="22"/><rect x="756" y="396" width="5" height="6"/><rect x="757" y="397" width="3" height="4" fill="#fff"/><rect x="766" y="394" width="1" height="41"/><rect x="764" y="396" width="5" height="33"/><rect x="774" y="408" width="1" height="28"/><rect x="772" y="425" width="5" height="3"/><rect x="773" y="426" width="3" height="1" fill="#fff"/><rect x="782" y="392" width="1" height="37"/><rect x="780" y="395" width="5" height="31"/><rect x="781" y="396" width="3" height="29" fill="#fff"/><rect x="790" y="369" width="1" height="47"/><rect x="788" y="377" width="5" height="19"/><rect x="789" y="378" width="3" height="17" fill="#fff"/><rect x="798" y="376" width="1" height="84"/><rect x="796" y="377" width="5" height="59"/><rect x="806" y="409" width="1" height="40"/><rect x="804" y="424" width="5" height="12"/><rect x="805" y="425" width="3" height="10" fill="#fff"/><rect x="814" y="401" width="1" height="25"/><rect x="812" y="405" width="5" height="19"/><rect x="813" y="406" width="3" height="17" fill="#fff"/><rect x="822" y="388" width="1" height="17"/><rect x="820" y="394" width="5" height="11"/><rect x="821" y="395" width="3" height="9" fill="#fff"/><rect x="830" y="372" width="1" height="28"/><rect x="828" y="386" width="5" height="7"/><rect x="829" y="387" width="3" height="5" fill="#fff"/><rect x="838" y="376" width="1" height="19"/><rect x="836" y="376" width="5" height="12"/><rect x="837" y="377" width="3" height="10" fill="#fff"/><rect x="846" y="276" width="1" height="124"/><rect x="844" y="283" width="5" height="93"/><rect x="845" y="284" width="3" height="91" fill="#fff"/><rect x="854" y="259" width="1" height="25"/><rect x="852" y="266" width="5" height="16"/><rect x="853" y="267" width="3" height="14" fill="#fff"/><rect x="862" y="258" width="1" height="15"/><rect x="860" y="267" width="5" height="1"/><rect x="870" y="254" width="1" height="10"/><rect x="868" y="257" width="5" height="7"/><rect x="878" y="264" width="1" height="24"/><rect x="876" y="264" width="5" height="17"/><rect x="886" y="264" width="1" height="21"/><rect x="884" y="266" width="5" height="15"/><rect x="885" y="267" width="3" height="13" fill="#fff"/><rect x="894" y="263" width="1" height="28"/><rect x="892" y="266" width="5" height="18"/><rect x="902" y="266" width="1" height="19"/><rect x="900" y="276" width="5" height="9"/><rect x="901" y="277" width="3" height="7" fill="#fff"/><rect x="910" y="275" width="1" height="29"/><rect x="908" y="276" width="5" height="16"/><rect x="918" y="286" width="1" height="40"/><rect x="916" y="291" width="5" height="20"/><rect x="926" y="300" width="1" height="20"/><rect x="924" y="304" width="5" height="6"/><rect x="925" y="305" width="3" height="4" fill="#fff"/><rect x="934" y="302" width="1" height="9"/><rect x="932" y="304" width="5" height="5"/><rect x="942" y="307" width="1" height="83"/><rect x="940" y="308" width="5" height="49"/><rect x="950" y="290" width="1" height="76"/><rect x="948" y="297" width="5" height="60"/><rect x="949" y="298" width="3" height="58" fill="#fff"/><rect x="958" y="291" width="1" height="37"/><rect x="956" y="297" width="5" height="7"/><rect x="966" y="299" width="1" height="34"/><rect x="964" y="304" width="5" height="12"/><rect x="974" y="311" width="1" height="19"/><rect x="972" y="316" width="5" height="1"/><rect x="982" y="307" width="1" height="17"/><rect x="980" y="315" width="5" height="5"/><rect x="990" y="282" width="1" height="52"/><rect x="988" y="320" width="5" height="1"/><rect x="998" y="309" width="1" height="43"/><rect x="996" y="318" width="5" height="25"/><rect x="1006" y="307" width="1" height="49"/><rect x="1004" y="307" width="5" height="35"/><rect x="1005" y="308" width="3" height="33" fill="#fff"/><rect x="1014" y="296" width="1" height="29"/><rect x="1012" y="296" width="5" height="11"/><rect x="1013" y="297" width="3" height="9" fill="#fff"/><rect x="1022" y="291" width="1" height="18"/><rect x="1020" y="296" width="5" height="1"/><rect x="1030" y="292" width="1" height="9"/><rect x="1028" y="296" width="5" height="1"/><rect x="1038" y="279" width="1" height="28"/><rect x="1036" y="295" width="5" height="2"/><rect x="1046" y="176" width="1" height="159"/><rect x="1044" y="205" width="5" height="91"/><rect x="1045" y="206" width="3" height="89" fill="#fff"/><rect x="1054" y="199" width="1" height="88"/><rect x="1052" y="206" width="5" height="19"/><rect x="1062" y="160" width="1" height="75"/><rect x="1060" y="167" width="5" height="57"/><rect x="1061" y="168" width="3" height="55" fill="#fff"/><rect x="1070" y="155" width="1" height="30"/><rect x="1068" y="167" width="5" height="4"/><rect x="1078" y="159" width="1" height="13"/><rect x="1076" y="162" width="5" height="10"/><rect x="1077" y="163" width="3" height="8" fill="#fff"/><rect x="1086" y="147" width="1" height="29"/><rect x="1084" y="163" width="5" height="3"/><rect x="1094" y="147" width="1" height="93"/><rect x="1092" y="166" width="5" height="66"/><rect x="1102" y="202" width="1" height="56"/><rect x="1100" y="210" width="5" height="22"/><rect x="1101" y="211" width="3" height="20" fill="#fff"/><rect x="1110" y="200" width="1" height="16"/><rect x="1108" y="203" width="5" height="6"/><rect x="1109" y="204" width="3" height="4" fill="#fff"/><rect x="1118" y="188" width="1" height="16"/><rect x="1116" y="190" width="5" height="10"/><rect x="1126" y="192" width="1" height="9"/><rect x="1124" y="195" width="5" height="5"/><rect x="1125" y="196" width="3" height="3" fill="#fff"/><rect x="1134" y="191" width="1" height="16"/><rect x="1132" y="195" width="5" height="7"/><rect x="1142" y="176" width="1" height="25"/><rect x="1140" y="186" width="5" height="15"/><rect x="1141" y="187" width="3" height="13" fill="#fff"/><rect x="1150" y="127" width="1" height="64"/><rect x="1148" y="139" width="5" height="48"/><rect x="1149" y="140" width="3" height="46" fill="#fff"/><rect x="1158" y="132" width="1" height="28"/><rect x="1156" y="138" width="5" height="21"/><rect x="1166" y="154" width="1" height="32"/><rect x="1164" y="159" width="5" height="26"/><rect x="1174" y="171" width="1" height="20"/><rect x="1172" y="172" width="5" height="12"/><rect x="1173" y="173" width="3" height="10" fill="#fff"/><rect x="1182" y="157" width="1" height="16"/><rect x="1180" y="163" width="5" height="10"/><rect x="1181" y="164" width="3" height="8" fill="#fff"/><rect x="1190" y="162" width="1" height="38"/><rect x="1188" y="162" width="5" height="23"/><rect x="1198" y="141" width="1" height="45"/><rect x="1196" y="161" width="5" height="25"/><rect x="1197" y="162" width="3" height="23" fill="#fff"/><rect x="1206" y="132" width="1" height="29"/><rect x="1204" y="144" width="5" height="17"/><rect x="1205" y="145" width="3" height="15" fill="#fff"/><rect x="1214" y="141" width="1" height="25"/><rect x="1212" y="144" width="5" height="16"/><rect x="1222" y="151" width="1" height="12"/><rect x="1220" y="156" width="5" height="3"/><rect x="1221" y="157" width="3" height="1" fill="#fff"/><rect x="1230" y="152" width="1" height="15"/><rect x="1228" y="155" width="5" height="12"/><rect x="1238" y="140" width="1" height="26"/><rect x="1236" y="148" width="5" height="18"/><rect x="1237" y="149" width="3" height="16" fill="#fff"/><rect x="1246" y="135" width="1" height="24"/><rect x="1244" y="144" width="5" height="6"/><rect x="1245" y="145" width="3" height="4" fill="#fff"/><rect x="1254" y="136" width="1" height="26"/><rect x="1252" y="144" width="5" height="3"/><rect x="1262" y="143" width="1" height="27"/><rect x="1260" y="146" width="5" height="9"/><rect x="1270" y="145" width="1" height="21"/><rect x="1268" y="155" width="5" height="7"/><rect x="1278" y="155" width="1" height="9"/><rect x="1276" y="157" width="5" height="4"/><rect x="1277" y="158" width="3" height="2" fill="#fff"/><rect x="1286" y="138" width="1" height="27"/><rect x="1284" y="144" width="5" height="13"/><rect x="1285" y="145" width="3" height="11" fill="#fff"/><rect x="1294" y="124" width="1" height="36"/><rect x="1292" y="130" width="5" height="14"/><rect x="1293" y="131" width="3" height="12" fill="#fff"/><rect x="1302" y="107" width="1" height="26"/><rect x="1300" y="114" width="5" height="14"/><rect x="1301" y="115" width="3" height="12" fill="#fff"/><rect x="1310" y="95" width="1" height="31"/><rect x="1308" y="100" width="5" height="14"/><rect x="1309" y="101" width="3" height="12" fill="#fff"/><rect x="1318" y="96" width="1" height="14"/><rect x="1316" y="99" width="5" height="4"/><rect x="1326" y="101" width="1" height="13"/><rect x="1324" y="103" width="5" height="4"/><rect x="1334" y="93" width="1" height="18"/><rect x="1332" y="94" width="5" height="13"/><rect x="1333" y="95" width="3" height="11" fill="#fff"/><rect x="1342" y="51" width="1" height="50"/><rect x="1340" y="69" width="5" height="26"/><rect x="1341" y="70" width="3" height="24" fill="#fff"/><rect x="1350" y="51" width="1" height="19"/><rect x="1348" y="54" width="5" height="15"/><rect x="1349" y="55" width="3" height="13" fill="#fff"/><rect x="1358" y="54" width="1" height="29"/><rect x="1356" y="54" width="5" height="16"/></g>
</g>
<rect x="1619" y="27" width="41" height="11" fill="#FF0000"/>
<text x="1622" y="36" class="axw">28564.1</text>
<rect x="1619" y="44" width="41" height="11" fill="#FF0000"/>
<text x="1622" y="53" class="axw">28523.9</text>
<rect x="1619" y="64" width="41" height="11" fill="#000"/>
<text x="1622" y="73" class="axw">28477.0</text>
<rect x="1619" y="83" width="41" height="11" fill="#33CC33"/>
<text x="1622" y="92" class="axw">28431.8</text>
<rect x="1619" y="108" width="41" height="11" fill="#0000FF"/>
<text x="1622" y="117" class="axw">28372.8</text>
<rect x="1619" y="127" width="41" height="11" fill="#0000FF"/>
<text x="1622" y="136" class="axw">28327.9</text>
<path d="M1611,30 h6 v6 h-6 Z M1613,32 v2 h2 v-2 Z" fill="#FF0000" fill-rule="evenodd"/>
<path d="M1611,47 h6 v6 h-6 Z M1613,49 v2 h2 v-2 Z" fill="#FF0000" fill-rule="evenodd"/>
<path d="M1611,86 h6 v6 h-6 Z M1613,88 v2 h2 v-2 Z" fill="#32CD32" fill-rule="evenodd"/>
<path d="M1611,111 h6 v6 h-6 Z M1613,113 v2 h2 v-2 Z" fill="#0000FF" fill-rule="evenodd"/>
<path d="M1611,130 h6 v6 h-6 Z M1613,132 v2 h2 v-2 Z" fill="#0000FF" fill-rule="evenodd"/>
<path d="M-3,30 h6 v6 h-6 Z M-1,32 v2 h2 v-2 Z" fill="#FF0000" fill-rule="evenodd"/>
<path d="M-3,111 h6 v6 h-6 Z M-1,113 v2 h2 v-2 Z" fill="#0000FF" fill-rule="evenodd"/>
<path d="M-3,130 h6 v6 h-6 Z M-1,132 v2 h2 v-2 Z" fill="#0000FF" fill-rule="evenodd"/>
<rect x="1618" y="79" width="2" height="1" fill="#000"/><text x="1623" y="83" class="ax">28457.0</text>
<rect x="1618" y="145" width="2" height="1" fill="#000"/>
<text x="1623" y="149" class="ax">28301.0</text>
<rect x="1618" y="178" width="2" height="1" fill="#000"/>
<text x="1623" y="182" class="ax">28221.0</text>
<rect x="1618" y="211" width="2" height="1" fill="#000"/>
<text x="1623" y="215" class="ax">28143.0</text>
<rect x="1618" y="244" width="2" height="1" fill="#000"/>
<text x="1623" y="248" class="ax">28065.0</text>
<rect x="1618" y="277" width="2" height="1" fill="#000"/>
<text x="1623" y="281" class="ax">27987.0</text>
<rect x="1618" y="310" width="2" height="1" fill="#000"/>
<text x="1623" y="314" class="ax">27909.0</text>
<rect x="1618" y="343" width="2" height="1" fill="#000"/>
<text x="1623" y="347" class="ax">27831.0</text>
<rect x="1618" y="376" width="2" height="1" fill="#000"/>
<text x="1623" y="380" class="ax">27753.0</text>
<rect x="1618" y="409" width="2" height="1" fill="#000"/>
<text x="1623" y="413" class="ax">27675.0</text>
<rect x="1618" y="442" width="2" height="1" fill="#000"/>
<text x="1623" y="446" class="ax">27597.0</text>
<rect x="1618" y="475" width="2" height="1" fill="#000"/>
<text x="1623" y="479" class="ax">27519.0</text>
<rect x="1618" y="508" width="2" height="1" fill="#000"/>
<text x="1623" y="512" class="ax">27441.0</text>
<rect x="1618" y="541" width="2" height="1" fill="#000"/>
<text x="1623" y="545" class="ax">27363.0</text>
<rect x="1618" y="574" width="2" height="1" fill="#000"/>
<text x="1623" y="578" class="ax">27285.0</text>
<g fill="#C0C0C0"><rect x="6" y="630" width="1" height="18"/><rect x="14" y="629" width="1" height="19"/><rect x="22" y="625" width="1" height="23"/><rect x="30" y="621" width="1" height="27"/><rect x="38" y="619" width="1" height="29"/><rect x="46" y="618" width="1" height="30"/><rect x="54" y="618" width="1" height="30"/><rect x="62" y="619" width="1" height="29"/><rect x="70" y="619" width="1" height="29"/><rect x="78" y="618" width="1" height="30"/><rect x="86" y="614" width="1" height="34"/><rect x="94" y="612" width="1" height="36"/><rect x="102" y="611" width="1" height="37"/><rect x="110" y="608" width="1" height="40"/><rect x="118" y="603" width="1" height="45"/><rect x="126" y="599" width="1" height="49"/><rect x="134" y="597" width="1" height="51"/><rect x="142" y="595" width="1" height="53"/><rect x="150" y="591" width="1" height="57"/><rect x="158" y="589" width="1" height="59"/><rect x="166" y="590" width="1" height="58"/><rect x="174" y="590" width="1" height="58"/><rect x="182" y="591" width="1" height="57"/><rect x="190" y="591" width="1" height="57"/><rect x="198" y="591" width="1" height="57"/><rect x="206" y="591" width="1" height="57"/><rect x="214" y="600" width="1" height="48"/><rect x="222" y="606" width="1" height="42"/><rect x="230" y="615" width="1" height="33"/><rect x="238" y="622" width="1" height="26"/><rect x="246" y="628" width="1" height="20"/><rect x="254" y="634" width="1" height="14"/><rect x="262" y="638" width="1" height="10"/><rect x="270" y="645" width="1" height="3"/><rect x="278" y="648" width="1" height="3"/><rect x="286" y="648" width="1" height="7"/><rect x="294" y="648" width="1" height="11"/><rect x="302" y="648" width="1" height="11"/><rect x="310" y="648" width="1" height="14"/><rect x="318" y="648" width="1" height="14"/><rect x="326" y="648" width="1" height="16"/><rect x="334" y="648" width="1" height="15"/><rect x="342" y="648" width="1" height="14"/><rect x="350" y="648" width="1" height="13"/><rect x="358" y="648" width="1" height="12"/><rect x="366" y="648" width="1" height="8"/><rect x="374" y="648" width="1" height="4"/><rect x="382" y="646" width="1" height="2"/><rect x="390" y="641" width="1" height="7"/><rect x="398" y="637" width="1" height="11"/><rect x="406" y="634" width="1" height="14"/><rect x="414" y="630" width="1" height="18"/><rect x="422" y="626" width="1" height="22"/><rect x="430" y="621" width="1" height="27"/><rect x="438" y="616" width="1" height="32"/><rect x="446" y="614" width="1" height="34"/><rect x="454" y="612" width="1" height="36"/><rect x="462" y="610" width="1" height="38"/><rect x="470" y="609" width="1" height="39"/><rect x="478" y="606" width="1" height="42"/><rect x="486" y="604" width="1" height="44"/><rect x="494" y="602" width="1" height="46"/><rect x="502" y="601" width="1" height="47"/><rect x="510" y="603" width="1" height="45"/><rect x="518" y="603" width="1" height="45"/><rect x="526" y="607" width="1" height="41"/><rect x="534" y="610" width="1" height="38"/><rect x="542" y="613" width="1" height="35"/><rect x="550" y="616" width="1" height="32"/><rect x="558" y="618" width="1" height="30"/><rect x="566" y="619" width="1" height="29"/><rect x="574" y="619" width="1" height="29"/><rect x="582" y="622" width="1" height="26"/><rect x="590" y="625" width="1" height="23"/><rect x="598" y="626" width="1" height="22"/><rect x="606" y="627" width="1" height="21"/><rect x="614" y="630" width="1" height="18"/><rect x="622" y="630" width="1" height="18"/><rect x="630" y="627" width="1" height="21"/><rect x="638" y="627" width="1" height="21"/><rect x="646" y="628" width="1" height="20"/><rect x="654" y="642" width="1" height="6"/><rect x="662" y="648" width="1" height="5"/><rect x="670" y="648" width="1" height="17"/><rect x="678" y="648" width="1" height="23"/><rect x="686" y="648" width="1" height="29"/><rect x="694" y="648" width="1" height="38"/><rect x="702" y="648" width="1" height="63"/><rect x="710" y="648" width="1" height="76"/><rect x="718" y="648" width="1" height="82"/><rect x="726" y="648" width="1" height="87"/><rect x="734" y="648" width="1" height="94"/><rect x="742" y="648" width="1" height="87"/><rect x="750" y="648" width="1" height="78"/><rect x="758" y="648" width="1" height="69"/><rect x="766" y="648" width="1" height="65"/><rect x="774" y="648" width="1" height="61"/><rect x="782" y="648" width="1" height="54"/><rect x="790" y="648" width="1" height="46"/><rect x="798" y="648" width="1" height="45"/><rect x="806" y="648" width="1" height="43"/><rect x="814" y="648" width="1" height="38"/><rect x="822" y="648" width="1" height="33"/><rect x="830" y="648" width="1" height="28"/><rect x="838" y="648" width="1" height="22"/><rect x="846" y="648" width="1" height="7"/><rect x="854" y="642" width="1" height="6"/><rect x="862" y="631" width="1" height="17"/><rect x="870" y="622" width="1" height="26"/><rect x="878" y="618" width="1" height="30"/><rect x="886" y="613" width="1" height="35"/><rect x="894" y="611" width="1" height="37"/><rect x="902" y="610" width="1" height="38"/><rect x="910" y="611" width="1" height="37"/><rect x="918" y="614" width="1" height="34"/><rect x="926" y="616" width="1" height="32"/><rect x="934" y="619" width="1" height="29"/><rect x="942" y="627" width="1" height="21"/><rect x="950" y="626" width="1" height="22"/><rect x="958" y="627" width="1" height="21"/><rect x="966" y="629" width="1" height="19"/><rect x="974" y="631" width="1" height="17"/><rect x="982" y="633" width="1" height="15"/><rect x="990" y="635" width="1" height="13"/><rect x="998" y="639" width="1" height="9"/><rect x="1006" y="639" width="1" height="9"/><rect x="1014" y="637" width="1" height="11"/><rect x="1022" y="636" width="1" height="12"/><rect x="1030" y="635" width="1" height="13"/><rect x="1038" y="634" width="1" height="14"/><rect x="1046" y="624" width="1" height="24"/><rect x="1054" y="618" width="1" height="30"/><rect x="1062" y="608" width="1" height="40"/><rect x="1070" y="600" width="1" height="48"/><rect x="1078" y="594" width="1" height="54"/><rect x="1086" y="590" width="1" height="58"/><rect x="1094" y="595" width="1" height="53"/><rect x="1102" y="597" width="1" height="51"/><rect x="1110" y="599" width="1" height="49"/><rect x="1118" y="600" width="1" height="48"/><rect x="1126" y="601" width="1" height="47"/><rect x="1134" y="603" width="1" height="45"/><rect x="1142" y="603" width="1" height="45"/><rect x="1150" y="599" width="1" height="49"/><rect x="1158" y="598" width="1" height="50"/><rect x="1166" y="601" width="1" height="47"/><rect x="1174" y="602" width="1" height="46"/><rect x="1182" y="603" width="1" height="45"/><rect x="1190" y="606" width="1" height="42"/><rect x="1198" y="607" width="1" height="41"/><rect x="1206" y="606" width="1" height="42"/><rect x="1214" y="607" width="1" height="41"/><rect x="1222" y="608" width="1" height="40"/><rect x="1230" y="611" width="1" height="37"/><rect x="1238" y="611" width="1" height="37"/><rect x="1246" y="611" width="1" height="37"/><rect x="1254" y="612" width="1" height="36"/><rect x="1262" y="614" width="1" height="34"/><rect x="1270" y="617" width="1" height="31"/><rect x="1278" y="619" width="1" height="29"/><rect x="1286" y="619" width="1" height="29"/><rect x="1294" y="618" width="1" height="30"/><rect x="1302" y="616" width="1" height="32"/><rect x="1310" y="613" width="1" height="35"/><rect x="1318" y="612" width="1" height="36"/><rect x="1326" y="611" width="1" height="37"/><rect x="1334" y="610" width="1" height="38"/><rect x="1342" y="606" width="1" height="42"/><rect x="1350" y="603" width="1" height="45"/><rect x="1358" y="602" width="1" height="46"/></g>
<polyline points="-1.5,617.3 6.5,619.3 14.5,620.4 22.5,621.3 30.5,621.5 38.5,622.3 46.5,622.5 54.5,622.5 62.5,622.5 70.5,622.1 78.5,620.8 86.5,619.1 94.5,617.7 102.5,616.6 110.5,615.3 118.5,613.6 126.5,611.5 134.5,609.0 142.5,606.3 150.5,603.3 158.5,600.5 166.5,598.1 174.5,595.7 182.5,593.9 190.5,592.6 198.5,591.8 206.5,591.1 214.5,591.6 222.5,593.3 230.5,596.2 238.5,599.8 246.5,604.0 254.5,608.7 262.5,613.9 270.5,619.8 278.5,626.4 286.5,632.6 294.5,638.4 302.5,643.3 310.5,647.8 318.5,651.5 326.5,654.9 334.5,657.6 342.5,659.6 350.5,660.8 358.5,661.4 366.5,661.1 374.5,660.4 382.5,658.6 390.5,656.3 398.5,653.3 406.5,650.0 414.5,646.4 422.5,642.5 430.5,638.1 438.5,633.7 446.5,629.4 454.5,625.6 462.5,622.2 470.5,619.1 478.5,616.0 486.5,613.1 494.5,610.4 502.5,608.2 510.5,606.8 518.5,605.6 526.5,605.0 534.5,605.0 542.5,605.5 550.5,606.7 558.5,608.2 566.5,610.1 574.5,612.1 582.5,614.2 590.5,616.6 598.5,618.7 606.5,620.6 614.5,622.4 622.5,623.9 630.5,625.0 638.5,625.9 646.5,626.8 654.5,629.0 662.5,632.1 670.5,636.4 678.5,641.3 686.5,646.6 694.5,652.9 702.5,662.2 710.5,673.0 718.5,684.4 726.5,694.7 734.5,704.6 742.5,712.4 750.5,718.5 758.5,723.0 766.5,726.0 774.5,725.8 782.5,723.4 790.5,719.3 798.5,714.6 806.5,708.9 814.5,703.5 822.5,698.6 830.5,694.0 838.5,689.2 846.5,683.2 854.5,676.5 862.5,669.5 870.5,661.7 878.5,653.5 886.5,645.4 894.5,637.6 902.5,630.3 910.5,623.6 918.5,619.1 926.5,616.3 934.5,615.0 942.5,615.5 950.5,616.4 958.5,618.0 966.5,620.0 974.5,622.4 982.5,624.8 990.5,627.2 998.5,629.7 1006.5,631.9 1014.5,633.0 1022.5,634.0 1030.5,634.9 1038.5,635.5 1046.5,634.7 1054.5,633.0 1062.5,630.0 1070.5,625.7 1078.5,620.7 1086.5,615.5 1094.5,610.9 1102.5,606.7 1110.5,602.7 1118.5,600.0 1126.5,598.1 1134.5,597.6 1142.5,598.0 1150.5,598.5 1158.5,599.4 1166.5,600.1 1174.5,600.7 1182.5,601.2 1190.5,601.9 1198.5,602.6 1206.5,602.9 1214.5,603.3 1222.5,604.4 1230.5,605.8 1238.5,606.9 1246.5,607.9 1254.5,608.9 1262.5,609.8 1270.5,610.9 1278.5,612.4 1286.5,613.7 1294.5,614.8 1302.5,615.4 1310.5,615.6 1318.5,615.7 1326.5,615.5 1334.5,615.1 1342.5,613.9 1350.5,612.1 1358.5,610.1" fill="none" stroke="#FF0000" stroke-width="1" stroke-dasharray="3,3"/>
<text x="2" y="592" class="ax">MACD(12,26,9) 76.64 62.91</text>
<rect x="1618" y="581" width="2" height="1" fill="#000"/>
<text x="1621" y="590" class="ax">112.17</text>
<rect x="1618" y="647" width="2" height="1" fill="#000"/>
<text x="1621" y="651" class="ax">0.00</text>
<rect x="1618" y="744" width="2" height="1" fill="#000"/>
<text x="1621" y="746" class="ax">-170.97</text>
<line x1="0" y1="787.5" x2="1617" y2="787.5" stroke="#C0C0C0" stroke-width="1" stroke-dasharray="3,3"/>
<line x1="0" y1="838.5" x2="1617" y2="838.5" stroke="#C0C0C0" stroke-width="1" stroke-dasharray="3,3"/>
<line x1="0" y1="899.5" x2="1617" y2="899.5" stroke="#C0C0C0" stroke-width="1" stroke-dasharray="3,3"/>
<polyline points="-1.5,835.9 6.5,843.0 14.5,827.4 22.5,818.5 30.5,817.8 38.5,821.1 46.5,820.9 54.5,820.2 62.5,827.3 70.5,823.2 78.5,819.0 86.5,809.5 94.5,812.1 102.5,815.8 110.5,809.0 118.5,801.9 126.5,800.8 134.5,805.4 142.5,803.2 150.5,796.7 158.5,796.5 166.5,811.1 174.5,807.4 182.5,809.1 190.5,806.1 198.5,803.9 206.5,802.0 214.5,837.6 222.5,835.1 230.5,845.0 238.5,845.4 246.5,846.5 254.5,848.4 262.5,846.9 270.5,858.1 278.5,859.5 286.5,857.8 294.5,859.3 302.5,846.8 310.5,858.4 318.5,845.6 326.5,853.8 334.5,843.8 342.5,845.6 350.5,843.4 358.5,843.4 366.5,831.6 374.5,829.2 382.5,819.4 390.5,817.7 398.5,818.9 406.5,818.9 414.5,812.0 422.5,809.9 430.5,803.4 438.5,801.7 446.5,803.9 454.5,807.7 462.5,802.4 470.5,802.4 478.5,797.1 486.5,794.8 494.5,793.4 502.5,797.1 510.5,813.2 518.5,805.7 526.5,824.0 534.5,824.7 542.5,826.0 550.5,824.5 558.5,820.5 566.5,818.5 574.5,816.1 582.5,830.0 590.5,832.8 598.5,824.8 606.5,825.6 614.5,834.5 622.5,824.2 630.5,812.8 638.5,821.4 646.5,826.1 654.5,872.1 662.5,867.9 670.5,875.5 678.5,863.3 686.5,866.2 694.5,874.8 702.5,892.9 710.5,879.9 718.5,870.9 726.5,871.4 734.5,876.5 742.5,851.5 750.5,846.8 758.5,845.5 766.5,851.2 774.5,850.5 782.5,843.5 790.5,839.6 798.5,850.9 806.5,848.3 814.5,843.9 822.5,841.3 830.5,839.4 838.5,837.0 846.5,818.4 854.5,815.7 862.5,816.0 870.5,815.2 878.5,820.6 886.5,817.8 894.5,823.3 902.5,821.8 910.5,826.8 918.5,833.0 926.5,831.3 934.5,832.7 942.5,847.6 950.5,831.0 958.5,832.8 966.5,836.4 974.5,836.7 982.5,837.7 990.5,838.0 998.5,845.5 1006.5,833.6 1014.5,830.3 1022.5,830.3 1030.5,830.3 1038.5,829.9 1046.5,805.8 1054.5,813.7 1062.5,803.0 1070.5,804.2 1078.5,802.8 1086.5,804.1 1094.5,829.3 1102.5,824.2 1110.5,822.6 1118.5,821.6 1126.5,820.6 1134.5,823.0 1142.5,818.8 1150.5,807.8 1158.5,815.8 1166.5,825.8 1174.5,822.6 1182.5,820.3 1190.5,828.5 1198.5,822.1 1206.5,817.7 1214.5,823.8 1222.5,823.0 1230.5,827.2 1238.5,821.7 1246.5,820.5 1254.5,821.5 1262.5,825.5 1270.5,829.0 1278.5,827.4 1286.5,822.2 1294.5,817.1 1302.5,811.7 1310.5,807.4 1318.5,808.8 1326.5,811.5 1334.5,807.4 1342.5,800.0 1350.5,796.2 1358.5,806.5" fill="none" stroke="#1E90FF" stroke-width="1"/>
<text x="2" y="764" class="ax">RSI(14) 68.3314</text>
<text x="1621" y="762" class="ax">100</text>
<text x="1621" y="791" class="ax">80</text>
<text x="1621" y="842" class="ax">50</text>
<text x="1621" y="903" class="ax">15</text>
<text x="1621" y="922" class="ax">0</text>
<rect x="-2" y="926" width="1" height="3" fill="#000"/>
<text x="-2" y="938" class="ax">13 Nov 2019</text>
<rect x="62" y="926" width="1" height="3" fill="#000"/>
<text x="62" y="938" class="ax">14 Nov 12:00</text>
<rect x="126" y="926" width="1" height="3" fill="#000"/>
<text x="126" y="938" class="ax">15 Nov 20:00</text>
<rect x="190" y="926" width="1" height="3" fill="#000"/>
<text x="190" y="938" class="ax">19 Nov 00:00</text>
<rect x="254" y="926" width="1" height="3" fill="#000"/>
<text x="254" y="938" class="ax">20 Nov 08:00</text>
<rect x="318" y="926" width="1" height="3" fill="#000"/>
<text x="318" y="938" class="ax">21 Nov 16:00</text>
<rect x="382" y="926" width="1" height="3" fill="#000"/>
<text x="382" y="938" class="ax">24 Nov 23:00</text>
<rect x="446" y="926" width="1" height="3" fill="#000"/>
<text x="446" y="938" class="ax">26 Nov 04:00</text>
<rect x="510" y="926" width="1" height="3" fill="#000"/>
<text x="510" y="938" class="ax">27 Nov 12:00</text>
<rect x="574" y="926" width="1" height="3" fill="#000"/>
<text x="574" y="938" class="ax">28 Nov 23:00</text>
<rect x="638" y="926" width="1" height="3" fill="#000"/>
<text x="638" y="938" class="ax">2 Dec 04:00</text>
<rect x="702" y="926" width="1" height="3" fill="#000"/>
<text x="702" y="938" class="ax">3 Dec 12:00</text>
<rect x="766" y="926" width="1" height="3" fill="#000"/>
<text x="766" y="938" class="ax">4 Dec 20:00</text>
<rect x="830" y="926" width="1" height="3" fill="#000"/>
<text x="830" y="938" class="ax">6 Dec 04:00</text>
<rect x="894" y="926" width="1" height="3" fill="#000"/>
<text x="894" y="938" class="ax">9 Dec 08:00</text>
<rect x="958" y="926" width="1" height="3" fill="#000"/>
<text x="958" y="938" class="ax">10 Dec 16:00</text>
<rect x="1022" y="926" width="1" height="3" fill="#000"/>
<text x="1022" y="938" class="ax">12 Dec 00:00</text>
<rect x="1086" y="926" width="1" height="3" fill="#000"/>
<text x="1086" y="938" class="ax">13 Dec 08:00</text>
<rect x="1150" y="926" width="1" height="3" fill="#000"/>
<text x="1150" y="938" class="ax">16 Dec 12:00</text>
<rect x="1214" y="926" width="1" height="3" fill="#000"/>
<text x="1214" y="938" class="ax">17 Dec 20:00</text>
<rect x="1278" y="926" width="1" height="3" fill="#000"/>
<text x="1278" y="938" class="ax">19 Dec 04:00</text>
<rect x="1342" y="926" width="1" height="3" fill="#000"/>
<text x="1342" y="938" class="ax">20 Dec 12:00</text>
<defs>
<linearGradient id="rg" gradientUnits="userSpaceOnUse" x1="0" y1="44" x2="0" y2="108">
<stop offset="0" stop-color="#F65A5A"/><stop offset="0.38" stop-color="#DC3232"/><stop offset="1" stop-color="#AE0000"/></linearGradient>
<linearGradient id="gb" x1="0" y1="0" x2="0" y2="1">
<stop offset="0" stop-color="#F2F2F2"/><stop offset="0.4" stop-color="#EAEAEA"/><stop offset="0.42" stop-color="#D8D8D8"/><stop offset="1" stop-color="#D0D0D0"/></linearGradient>
</defs>
<rect x="0" y="42" width="222" height="67" fill="#fff"/>
<path d="M1,44 H53 V68 H110 V108 H1 Z" fill="url(#rg)"/>
<path d="M112,68 H168 V44 H220 V108 H112 Z" fill="url(#rg)"/>
<path d="M1.5,107.5 V44.5 H52.5 V68.5 H109.5 V107.5 Z" fill="none" stroke="#B00000" stroke-width="1"/>
<path d="M112.5,107.5 V68.5 H168.5 V44.5 H219.5 V107.5 Z" fill="none" stroke="#B00000" stroke-width="1"/>
<rect x="5" y="67" width="44" height="1" fill="#900000"/><rect x="5" y="68" width="44" height="1" fill="#EE6A6A"/>
<rect x="172" y="67" width="44" height="1" fill="#900000"/><rect x="172" y="68" width="44" height="1" fill="#EE6A6A"/>
<text x="13.5" y="60" style="font-size:12.5px" fill="#fff" textLength="25.5" lengthAdjust="spacingAndGlyphs">SELL</text>
<text x="181.5" y="60" style="font-size:12.5px" fill="#fff" textLength="23" lengthAdjust="spacingAndGlyphs">BUY</text>
<text x="17" y="99" style="font-size:12.5px;font-weight:bold" fill="#fff">28475</text>
<text x="127" y="99" style="font-size:12.5px;font-weight:bold" fill="#fff">28484</text>
<rect x="57.5" y="95" width="4" height="4" fill="#fff" rx="0.5"/>
<rect x="167.5" y="95" width="4" height="4" fill="#fff" rx="0.5"/>
<text x="0" y="0" transform="translate(63.8,99) scale(0.82,1)" style="font-size:34px" fill="#fff">5</text>
<text x="0" y="0" transform="translate(173.8,99) scale(0.82,1)" style="font-size:34px" fill="#fff">5</text>
<rect x="55.5" y="44.5" width="110" height="21" fill="#fff" stroke="#A8ACB4"/>
<rect x="76" y="45" width="1" height="20" fill="#A8ACB4"/><rect x="144" y="45" width="1" height="20" fill="#A8ACB4"/>
<rect x="57" y="46" width="18" height="18" fill="url(#gb)"/>
<rect x="146" y="46" width="18" height="18" fill="url(#gb)"/>
<path d="M62.5,52.8 h5.5 l-2.75,3.2 z" fill="#5060D0" shape-rendering="geometricPrecision"/>
<path d="M151.5,56 h5.5 l-2.75,-3.2 z" fill="#5060D0" shape-rendering="geometricPrecision"/>
<text x="141" y="59" style="font-size:12.5px" fill="#000" text-anchor="end">1.00</text>
<path d="M1,35 L4.5,31 L8,35 Z" fill="#000"/>
<text x="14" y="36" class="ax" xml:space="preserve">DJ30-,H4  28515.0 28516.0 28450.0 28477.0</text>
<path d="M1367,25 L1378,25 L1372.5,30 Z" fill="#A8A8A8" shape-rendering="geometricPrecision"/>
<rect x="1269" y="85" width="100" height="8" fill="#00FF00"/>
<rect x="1471" y="86" width="11" height="5" fill="#fff"/>
<rect x="1471" y="88" width="7" height="2" fill="#FF0000"/>
<path d="M1477,86 h4 v5 h-4 Z M1478,87 v3 h2 v-3 Z" fill="#FF0000" fill-rule="evenodd"/>
<rect x="1481.5" y="77.5" width="73" height="23" fill="#fff" stroke="#FF0000" stroke-width="1"/>
<text x="1483" y="97" style="font-size:21px" fill="#FF0000" textLength="70" lengthAdjust="spacingAndGlyphs">28431.8</text>
<path transform="translate(1423.3,140.3) scale(1.85)" d="M7.5,0.5 L3,4.2 M5.3,2.4 H11.5 Q9,6 3.5,8.3 M5,4.3 L7,5.8 M8.8,6.8 L3.5,10.8 M6.6,8.8 H13.5 Q10,14 2.5,15.5 M6,10.8 L8.2,12.5" fill="none" stroke="#000" stroke-width="1.514" stroke-linecap="round" stroke-linejoin="round" shape-rendering="geometricPrecision"/><path transform="translate(1456.3,140.3) scale(1.85)" d="M8,0.3 V2.2 M1.5,5.3 V3 H14.5 V5.3 M6.2,4.8 L3.5,8 M9.8,4.8 L12.8,8 M3.8,10 H12.2 M8,10 V14.6 M1,14.8 H15" fill="none" stroke="#000" stroke-width="1.514" stroke-linecap="round" stroke-linejoin="round" shape-rendering="geometricPrecision"/><path transform="translate(1488.8,140.3) scale(1.85)" d="M0.8,3 H6.8 M3.8,0.5 L1.6,8 H7 M4.6,5 V15.5 M0.5,11.8 L7.2,10.8 M8.6,3 H15 M8,6.6 H15.6 M11.8,0.5 L10.2,9.2 H14.5 L12,12.6 M11,12 L13.8,14.8" fill="none" stroke="#000" stroke-width="1.514" stroke-linecap="round" stroke-linejoin="round" shape-rendering="geometricPrecision"/><path transform="translate(1521.3,140.3) scale(1.85)" d="M0.8,5 H6.6 M3.9,0.8 V14.6 L2.4,13.5 M0.8,11.5 L6.8,8.6 M14.6,1.2 L9.6,2.8 M9.6,2.8 V8.8 Q9.6,12.5 8,15.2 M9.6,7.4 H15.4 M12.8,7.4 V15.4" fill="none" stroke="#000" stroke-width="1.514" stroke-linecap="round" stroke-linejoin="round" shape-rendering="geometricPrecision"/><path transform="translate(1554.3,140.3) scale(1.85)" d="M7,0.4 V6.8 M7,3.4 H12.5 M3,6.6 H12.5 V10.8 H3 Z M2.2,12.8 L1,15.4 M5.6,13 L6.2,15.4 M9.6,13 L10.6,15.4 M13,12.6 L15.2,15.4" fill="none" stroke="#000" stroke-width="1.514" stroke-linecap="round" stroke-linejoin="round" shape-rendering="geometricPrecision"/>
<path transform="translate(1422,139) scale(1.85)" d="M7.5,0.5 L3,4.2 M5.3,2.4 H11.5 Q9,6 3.5,8.3 M5,4.3 L7,5.8 M8.8,6.8 L3.5,10.8 M6.6,8.8 H13.5 Q10,14 2.5,15.5 M6,10.8 L8.2,12.5" fill="none" stroke="#00FF00" stroke-width="1.514" stroke-linecap="round" stroke-linejoin="round" shape-rendering="geometricPrecision"/><path transform="translate(1455,139) scale(1.85)" d="M8,0.3 V2.2 M1.5,5.3 V3 H14.5 V5.3 M6.2,4.8 L3.5,8 M9.8,4.8 L12.8,8 M3.8,10 H12.2 M8,10 V14.6 M1,14.8 H15" fill="none" stroke="#00FF00" stroke-width="1.514" stroke-linecap="round" stroke-linejoin="round" shape-rendering="geometricPrecision"/><path transform="translate(1487.5,139) scale(1.85)" d="M0.8,3 H6.8 M3.8,0.5 L1.6,8 H7 M4.6,5 V15.5 M0.5,11.8 L7.2,10.8 M8.6,3 H15 M8,6.6 H15.6 M11.8,0.5 L10.2,9.2 H14.5 L12,12.6 M11,12 L13.8,14.8" fill="none" stroke="#00FF00" stroke-width="1.514" stroke-linecap="round" stroke-linejoin="round" shape-rendering="geometricPrecision"/><path transform="translate(1520,139) scale(1.85)" d="M0.8,5 H6.6 M3.9,0.8 V14.6 L2.4,13.5 M0.8,11.5 L6.8,8.6 M14.6,1.2 L9.6,2.8 M9.6,2.8 V8.8 Q9.6,12.5 8,15.2 M9.6,7.4 H15.4 M12.8,7.4 V15.4" fill="none" stroke="#00FF00" stroke-width="1.514" stroke-linecap="round" stroke-linejoin="round" shape-rendering="geometricPrecision"/><path transform="translate(1553,139) scale(1.85)" d="M7,0.4 V6.8 M7,3.4 H12.5 M3,6.6 H12.5 V10.8 H3 Z M2.2,12.8 L1,15.4 M5.6,13 L6.2,15.4 M9.6,13 L10.6,15.4 M13,12.6 L15.2,15.4" fill="none" stroke="#00FF00" stroke-width="1.514" stroke-linecap="round" stroke-linejoin="round" shape-rendering="geometricPrecision"/>
</svg></body></html>
